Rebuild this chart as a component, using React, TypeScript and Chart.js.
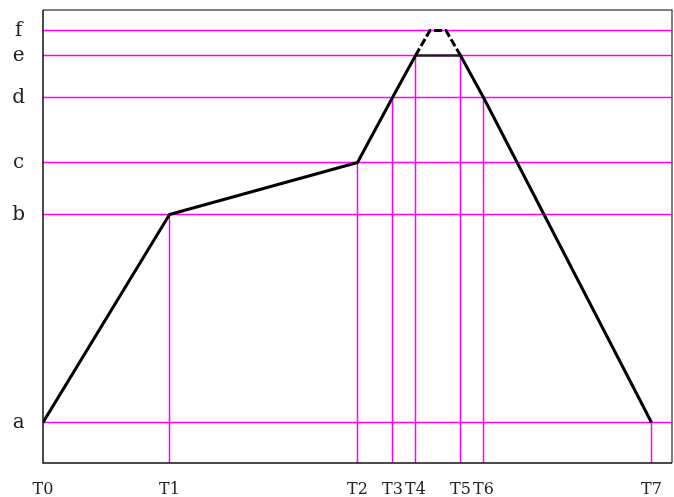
import React, { useEffect, useRef } from "react";
import { Chart, registerables } from "chart.js";

Chart.register(...registerables);

// Level names (y) and their values
const levelLabels = ["a", "b", "c", "d", "e", "f"];
const levelValues = [40.5, 248.5, 300.5, 365.5, 407.5, 432.5];

// Time names (x) and their values
const timeLabels = ["T0", "T1", "T2", "T3", "T4", "T5", "T6", "T7"];
const timeValues = [0, 126.5, 314.5, 349.5, 372.5, 417.5, 440.5, 608.5];

// Level reached by the profile at each time
const timeLevels = ["a", "b", "c", "d", "e", "e", "d", "a"];

// Flat top of the dashed peak (at level f)
const peakTimes = [387, 403];
const peakLevel = "f";

const X_MAX = 629;
const Y_MAX = 453;

const lv = (name: string) => levelValues[levelLabels.indexOf(name)];

export default function App() {
  const ref = useRef<HTMLCanvasElement | null>(null);

  useEffect(() => {
    if (!ref.current) return;

    const pts = timeValues.map((t, i) => ({ x: t, y: lv(timeLevels[i]) }));
    const curve = [
      ...pts.slice(0, 5),
      { x: peakTimes[0], y: lv(peakLevel) },
      { x: peakTimes[1], y: lv(peakLevel) },
      ...pts.slice(5),
    ];

    const verticals = timeValues.slice(1).map((t, k) => ({
      label: "v" + (k + 1),
      data: [
        { x: t, y: lv(timeLevels[k + 1]) },
        { x: t, y: 0 },
      ],
      borderColor: "#ff00ff",
      borderWidth: 1.5,
      pointRadius: 0,
      order: 10,
    }));

    const horizontals = levelValues.map((v, k) => ({
      label: "h" + k,
      data: [
        { x: 0, y: v },
        { x: X_MAX, y: v },
      ],
      borderColor: "#ff00ff",
      borderWidth: 1.5,
      pointRadius: 0,
      order: 11,
    }));

    const framePlugin = {
      id: "frame",
      afterDatasetsDraw(chart: any) {
        const { ctx, chartArea: a } = chart;
        ctx.save();
        ctx.lineWidth = 1.5;
        ctx.strokeStyle = "#555";
        ctx.beginPath();
        ctx.moveTo(a.left, a.top);
        ctx.lineTo(a.right, a.top);
        ctx.lineTo(a.right, a.bottom);
        ctx.stroke();
        ctx.strokeStyle = "#111";
        ctx.beginPath();
        ctx.moveTo(a.right, a.bottom);
        ctx.lineTo(a.left, a.bottom);
        ctx.lineTo(a.left, a.top);
        ctx.stroke();
        ctx.restore();
      },
    };

    const chart = new Chart(ref.current, {
      type: "line",
      data: {
        datasets: [
          {
            label: "profile",
            data: curve,
            borderColor: "#000",
            borderWidth: 3,
            pointRadius: 0,
            borderJoinStyle: "round",
            borderCapStyle: "butt",
            order: 0,
            segment: {
              borderDash: (c: any) =>
                c.p0DataIndex >= 4 && c.p0DataIndex <= 6 ? [8, 3] : undefined,
            },
          } as any,
          {
            label: "e-hold",
            data: [pts[4], pts[5]],
            borderColor: "#222",
            borderWidth: 2.5,
            pointRadius: 0,
            order: 1,
          },
          ...verticals,
          ...horizontals,
        ],
      },
      options: {
        animation: false,
        responsive: true,
        maintainAspectRatio: false,
        layout: {
          autoPadding: false,
          padding: { top: 10, right: 2, left: 0, bottom: 0 },
        },
        plugins: { legend: { display: false }, tooltip: { enabled: false } },
        scales: {
          x: {
            type: "linear",
            min: 0,
            max: X_MAX,
            afterBuildTicks: (s: any) => {
              s.ticks = timeValues.map((v) => ({ value: v }));
            },
            afterFit: (s: any) => {
              s.height = 34;
              s.paddingLeft = 0;
              s.paddingRight = 0;
            },
            grid: { display: false, drawTicks: false },
            border: { display: false },
            ticks: {
              autoSkip: false,
              maxRotation: 0,
              padding: 17,
              color: "#222",
              font: { family: "DejaVu Serif", size: 16 },
              callback: (_v: any, i: number) => timeLabels[i],
            },
          },
          y: {
            type: "linear",
            min: 0,
            max: Y_MAX,
            afterBuildTicks: (s: any) => {
              s.ticks = levelValues.map((v) => ({ value: v }));
            },
            afterFit: (s: any) => {
              s.width = 43;
              s.paddingTop = 0;
              s.paddingBottom = 0;
            },
            grid: { display: false, drawTicks: false },
            border: { display: false },
            ticks: {
              crossAlign: "center",
              padding: 18,
              color: "#222",
              font: { family: "DejaVu Serif", size: 20 },
              callback: (_v: any, i: number) => levelLabels[i],
            },
          },
        },
      },
      plugins: [framePlugin],
    } as any);

    return () => chart.destroy();
  }, []);

  return (
    <div
      style={{
        position: "fixed",
        left: 0,
        top: 0,
        width: 674,
        height: 497,
        background: "#fff",
      }}
    >
      <canvas ref={ref} />
    </div>
  );
}
